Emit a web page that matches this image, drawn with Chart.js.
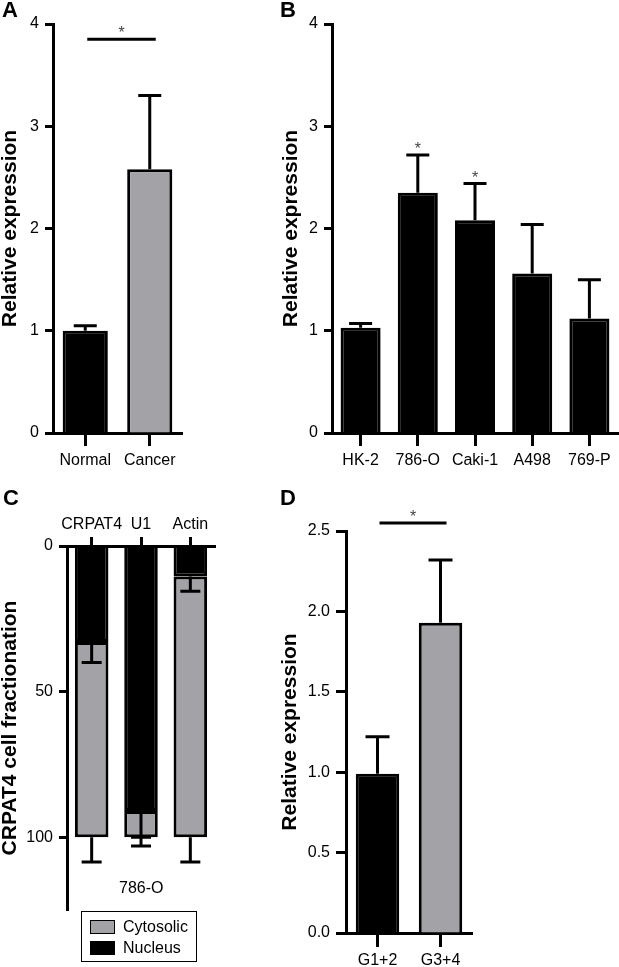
<!DOCTYPE html>
<html>
<head>
<meta charset="utf-8">
<script src="https://cdn.jsdelivr.net/npm/chart.js@4"></script>
<style>
  body { margin: 0; background: #fff; font-family: "Liberation Sans", Arial, sans-serif; }
  #wrap { position: relative; width: 619px; height: 967px; overflow: hidden; }
  canvas { position: absolute; }
  .letter { position: absolute; font-weight: bold; font-size: 22px; line-height: 1; }
  .txt { position: absolute; font-size: 16px; line-height: 1; white-space: nowrap; }
  #legend { position: absolute; left: 81px; top: 911px; width: 116px; height: 51px; border: 1px solid #000; box-sizing: border-box; }
  .sw { position: absolute; left: 8px; width: 25px; height: 14px; border: 1px solid #000; box-sizing: border-box; }
</style>
</head>
<body>
<div id="wrap">
  <canvas id="chartA" width="190" height="480" style="left:0;top:0"></canvas>
  <canvas id="chartB" width="338" height="480" style="left:281px;top:0"></canvas>
  <canvas id="chartC" width="230" height="487" style="left:0;top:480px"></canvas>
  <canvas id="chartD" width="200" height="487" style="left:280px;top:480px"></canvas>

  <div class="letter" style="left:2px;top:-1px">A</div>
  <div class="letter" style="left:280px;top:-1px">B</div>
  <div class="letter" style="left:3px;top:487px">C</div>
  <div class="letter" style="left:280px;top:487px">D</div>

  <div class="txt" style="left:119px;top:880px">786-O</div>
  <div id="legend">
    <div class="sw" style="top:8px;background:#a3a3a7"></div>
    <div class="txt" style="left:41px;top:7px">Cytosolic</div>
    <div class="sw" style="top:29px;background:#000"></div>
    <div class="txt" style="left:41px;top:28px">Nucleus</div>
  </div>
</div>

<script>
// Panel A
const catsA = ['Normal', 'Cancer'];
const meanA = [1.0, 2.58];
const errA = [0.05, 0.72];
const sigA = 3.85;

// Panel B
const catsB = ['HK-2', '786-O', 'Caki-1', 'A498', '769-P'];
const meanB = [1.03, 2.35, 2.08, 1.56, 1.12];
const errB = [0.04, 0.37, 0.36, 0.48, 0.38];
const starB = ['786-O', 'Caki-1'];

// Panel C
const catsC = ['CRPAT4', 'U1', 'Actin'];
const nucleusC = [33, 91, 10.5];
const nucleusErrC = [7, 9, 5];
const cytosolicC = [67, 9, 89.5];
const cytosolicErrC = [8.5, 3, 8.5];
const ticksC = [0, 50, 100];

// Panel D
const catsD = ['G1+2', 'G3+4'];
const meanD = [0.99, 1.93];
const errD = [0.23, 0.39];
const sigD = 2.55;

const GREY = '#a3a3a7';
const FONT = "'Liberation Sans', Arial, sans-serif";

// error bars drawn on top of each bar end
const errorBars = {
  id: 'errorBars',
  afterDatasetsDraw(chart, args, opts) {
    const ctx = chart.ctx;
    const y = chart.scales.y;
    const cap = opts.cap || 11.5;
    chart.data.datasets.forEach((ds, i) => {
      if (!ds.errors) return;
      chart.getDatasetMeta(i).data.forEach((bar, j) => {
        const err = ds.errors[j];
        if (!err) return;
        const endVal = y.getValueForPixel(bar.y);
        const y2 = y.getPixelForValue(endVal + err);
        ctx.save();
        ctx.strokeStyle = '#000';
        ctx.lineWidth = 3;
        ctx.beginPath();
        ctx.moveTo(bar.x, bar.y);
        ctx.lineTo(bar.x, y2);
        ctx.moveTo(bar.x - cap, y2);
        ctx.lineTo(bar.x + cap, y2);
        ctx.stroke();
        ctx.restore();
      });
    });
  }
};

// significance line and stars
const signif = {
  id: 'signif',
  afterDatasetsDraw(chart, args, opts) {
    const ctx = chart.ctx;
    const x = chart.scales.x, y = chart.scales.y;
    ctx.save();
    ctx.fillStyle = '#444';
    ctx.font = '16px ' + FONT;
    ctx.textAlign = 'center';
    ctx.textBaseline = 'alphabetic';
    if (opts.line != null) {
      const x0 = x.getPixelForValue(0) + 2;
      const x1 = x.getPixelForValue(1) + 6;
      const yy = y.getPixelForValue(opts.line);
      ctx.strokeStyle = '#000';
      ctx.lineWidth = 3;
      ctx.beginPath();
      ctx.moveTo(x0, yy);
      ctx.lineTo(x1, yy);
      ctx.stroke();
      ctx.fillText('*', (x0 + x1) / 2, yy - 1);
    }
    if (opts.stars) {
      const ds = chart.data.datasets[0];
      opts.stars.forEach(lab => {
        const j = chart.data.labels.indexOf(lab);
        const top = y.getPixelForValue(ds.data[j] + ds.errors[j]);
        ctx.fillText('*', x.getPixelForValue(j), top - 1);
      });
    }
    ctx.restore();
  }
};

function xAxis(h, tickLen, pad, pos) {
  return {
    position: pos || 'bottom',
    stacked: true,
    afterFit: s => { s.height = h; },
    border: { display: true, color: '#000', width: 3 },
    grid: { display: true, drawOnChartArea: false, offset: false, tickLength: tickLen, tickWidth: 3, tickColor: '#000' },
    ticks: { color: '#000', font: { family: FONT, size: 16 }, padding: pad, maxRotation: 0, autoSkip: false }
  };
}

function yAxis(w, title, extra) {
  return Object.assign({
    afterFit: s => { s.width = w; },
    border: { display: true, color: '#000', width: 3 },
    grid: { display: true, drawOnChartArea: false, tickLength: 8, tickWidth: 3, tickColor: '#000' },
    ticks: { color: '#000', font: { family: FONT, size: 16 }, padding: 6 },
    title: { display: true, text: title, color: '#000', font: { family: FONT, size: 21, weight: 'bold', lineHeight: 1 }, padding: 0 }
  }, extra);
}

function baseOptions(pad) {
  return {
    responsive: false,
    devicePixelRatio: 1,
    animation: false,
    layout: { padding: pad },
    plugins: { legend: { display: false }, tooltip: { enabled: false } }
  };
}

// A
const optA = baseOptions({ top: 24, right: 8, left: 0, bottom: 0 });
optA.scales = {
  x: xAxis(47, 13, 5),
  y: yAxis(53, 'Relative expression', { min: 0, max: 4, ticks: { stepSize: 1, color: '#000', font: { family: FONT, size: 16 }, padding: 6 } })
};
optA.plugins.errorBars = { cap: 11.5 };
optA.plugins.signif = { line: sigA };
new Chart('chartA', {
  type: 'bar',
  data: {
    labels: catsA,
    datasets: [{ data: meanA, errors: errA, backgroundColor: ['#000', GREY], borderColor: '#000', borderWidth: 3, categoryPercentage: 1, barPercentage: 0.7 }]
  },
  options: optA,
  plugins: [errorBars, signif]
});

// B
const optB = baseOptions({ top: 24, right: 1, left: 0, bottom: 0 });
optB.scales = {
  x: xAxis(47, 13, 5),
  y: yAxis(51, 'Relative expression', { min: 0, max: 4, ticks: { stepSize: 1, color: '#000', font: { family: FONT, size: 16 }, padding: 6 } })
};
optB.plugins.errorBars = { cap: 11.5 };
optB.plugins.signif = { stars: starB };
new Chart('chartB', {
  type: 'bar',
  data: {
    labels: catsB,
    datasets: [{ data: meanB, errors: errB, backgroundColor: '#000', borderColor: '#000', borderWidth: 3, categoryPercentage: 1, barPercentage: 0.7 }]
  },
  options: optB,
  plugins: [errorBars, signif]
});

// C
const optC = baseOptions({ top: 0, right: 15, left: 0, bottom: 57 });
optC.scales = {
  x: xAxis(66, 9, 3, 'top'),
  y: yAxis(67, 'CRPAT4 cell fractionation', {
    stacked: true, reverse: true, min: 0, max: 125,
    afterBuildTicks: s => { s.ticks = ticksC.map(v => ({ value: v })); },
    ticks: { color: '#000', font: { family: FONT, size: 16 }, padding: 6 }
  })
};
optC.plugins.errorBars = { cap: 10 };
new Chart('chartC', {
  type: 'bar',
  data: {
    labels: catsC,
    datasets: [
      { label: 'Nucleus', data: nucleusC, errors: nucleusErrC, backgroundColor: '#000', borderColor: '#000', borderWidth: 3, categoryPercentage: 1, barPercentage: 0.68 },
      { label: 'Cytosolic', data: cytosolicC, errors: cytosolicErrC, backgroundColor: GREY, borderColor: '#000', borderWidth: 3, borderSkipped: false, categoryPercentage: 1, barPercentage: 0.68 }
    ]
  },
  options: optC,
  plugins: [errorBars]
});

// D
const optD = baseOptions({ top: 51, right: 8, left: 0, bottom: 0 });
optD.scales = {
  x: xAxis(34, 14, 4),
  y: yAxis(66, 'Relative expression', {
    min: 0, max: 2.5,
    grid: { display: true, drawOnChartArea: false, tickLength: 10, tickWidth: 3, tickColor: '#000' },
    ticks: { stepSize: 0.5, color: '#000', font: { family: FONT, size: 16 }, padding: 6, callback: v => v.toFixed(1) }
  })
};
optD.plugins.errorBars = { cap: 12 };
optD.plugins.signif = { line: sigD };
new Chart('chartD', {
  type: 'bar',
  data: {
    labels: catsD,
    datasets: [{ data: meanD, errors: errD, backgroundColor: ['#000', GREY], borderColor: '#000', borderWidth: 3, categoryPercentage: 1, barPercentage: 0.69 }]
  },
  options: optD,
  plugins: [errorBars, signif]
});
</script>
</body>
</html>
